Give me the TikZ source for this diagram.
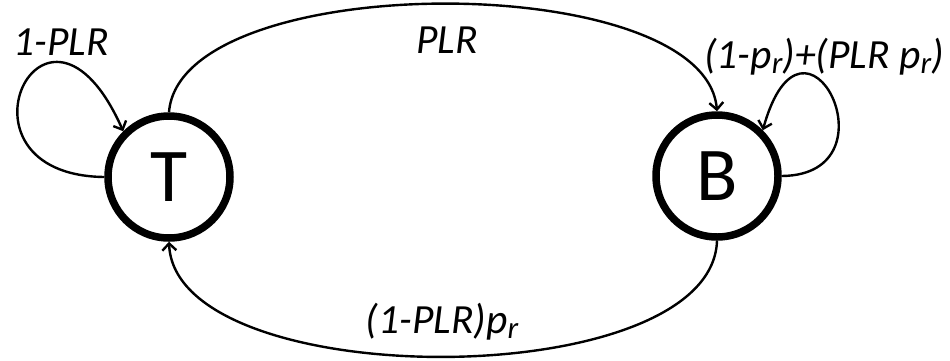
\documentclass[tikz,border=0pt]{standalone}
\usepackage{fontspec}
\setmainfont{Carlito}
\usetikzlibrary{arrows.meta}
\newcommand\subr{\raisebox{-5bp}{\fontsize{31bp}{31bp}\selectfont r}}
\begin{document}
\begin{tikzpicture}[x=1bp,y=-1bp,
  state/.style={circle,draw,line width=7.5bp,minimum size=122bp,inner sep=0pt,font=\fontsize{76bp}{80bp}\selectfont},
  edge/.style={line width=2.4bp,-{Straight Barb[length=7bp,width=14bp,line width=2.4bp]}},
  lbl/.style={font=\fontsize{41.5bp}{48bp}\selectfont\itshape,anchor=base,inner sep=0pt}]
\useasboundingbox (0,0) rectangle (950,360);
\node[state] (T) at (169,177) {T};
\node[state] (B) at (717,176) {B};
\draw[edge] (T.west) .. controls (-60,175) and (45,-45) .. (T.north west);
\draw[edge] (B.east) .. controls (900,175) and (804,-18) .. (B.north east);
\draw[edge] (T.north) .. controls (180,-32) and (705,-32) .. (B.north);
\draw[edge] (B.south) .. controls (712,395) and (175,395) .. (T.south);
\node[lbl] (l1) at (61,55) {1-PLR};
\node[lbl] (l2) at (447,53) {PLR};
\node[lbl] (l3) at (824,68) {(1-p\subr)+(PLR p\subr)};
\node[lbl] (l4) at (442,333) {(1-PLR)p\subr};
\end{tikzpicture}
\end{document}
